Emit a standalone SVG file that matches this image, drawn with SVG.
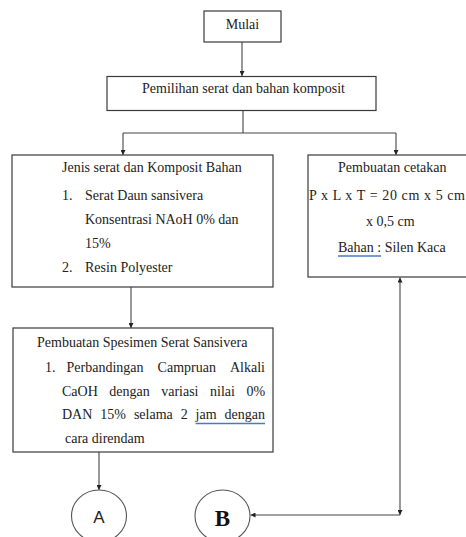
<svg xmlns="http://www.w3.org/2000/svg" width="466" height="537" viewBox="0 0 466 537">
<defs>
<marker id="ah" viewBox="0 0 10 10" refX="10" refY="5" markerWidth="5" markerHeight="5" orient="auto-start-reverse" markerUnits="userSpaceOnUse">
<path d="M0,0 L10,5 L0,10 Z" fill="#222"/>
</marker>
<style>
.box{fill:#fff;stroke:#3a3a3a;stroke-width:1.2}
.t{font-family:"Liberation Serif","Times New Roman",serif;font-size:14px;fill:#222}
.c{fill:none;stroke:#444;stroke-width:1.1}
.circ{fill:#fff;stroke:#555;stroke-width:1.1}
.sq{stroke:#4a78c8;stroke-width:1.3;fill:none}
</style>
</defs>
<rect width="466" height="537" fill="#fff"/>
<g id="connectors">
<path class="c" d="M242,42 V76" marker-end="url(#ah)"/>
<path class="c" d="M243,111 V133 M123,133 H396"/>
<path class="c" d="M123,133 V155" marker-end="url(#ah)"/>
<path class="c" d="M396,133 V155" marker-end="url(#ah)"/>
<path class="c" d="M131,287 V328" marker-end="url(#ah)"/>
<path class="c" d="M99,452 V490" marker-end="url(#ah)"/>
<path class="c" d="M400,515 V277.5" marker-start="url(#ah)" marker-end="url(#ah)"/>
<path class="c" d="M400,515 H250.5" marker-end="url(#ah)"/>
</g>
<g id="mulai">
<rect class="box" x="204" y="11" width="77" height="31"/>
<text class="t" x="242.5" y="29" text-anchor="middle">Mulai</text>
</g>
<g id="pemilihan">
<rect class="box" x="107" y="76.5" width="269" height="34"/>
<text class="t" x="142" y="93">Pemilihan serat dan bahan komposit</text>
</g>
<g id="jenis">
<rect class="box" x="12" y="155" width="261" height="132"/>
<text class="t" x="62" y="172">Jenis serat dan Komposit Bahan</text>
<text class="t" x="62" y="199.5">1.</text>
<text class="t" x="85" y="199.5">Serat Daun sansivera</text>
<text class="t" x="85" y="224">Konsentrasi NAoH 0% dan</text>
<text class="t" x="85" y="248">15%</text>
<text class="t" x="62" y="272">2.</text>
<text class="t" x="85" y="272">Resin Polyester</text>
</g>
<g id="cetakan">
<rect class="box" x="308" y="155" width="162" height="122"/>
<text class="t" x="338" y="172">Pembuatan cetakan</text>
<text class="t" x="309" y="199.5" textLength="156" lengthAdjust="spacing">P x L x T = 20 cm x 5 cm</text>
<text class="t" x="366" y="226">x 0,5 cm</text>
<text class="t" x="338" y="251.5">Bahan : Silen Kaca</text>
<path class="sq" d="M338,256 H381"/>
</g>
<g id="spesimen">
<rect class="box" x="13" y="328" width="260" height="124"/>
<text class="t" x="37" y="347">Pembuatan Spesimen Serat Sansivera</text>
<text class="t" x="45" y="372">1.</text>
<text class="t" y="372"><tspan x="66.5">Perbandingan</tspan><tspan x="157.6">Campruan</tspan><tspan x="230">Alkali</tspan></text>
<text class="t" y="395.5"><tspan x="62">CaOH</tspan><tspan x="109.3">dengan</tspan><tspan x="161.2">variasi</tspan><tspan x="210">nilai</tspan><tspan x="246.4">0%</tspan></text>
<text class="t" y="419"><tspan x="62">DAN</tspan><tspan x="100.2">15%</tspan><tspan x="133.9">selama</tspan><tspan x="180.7">2</tspan><tspan x="195.6">jam</tspan><tspan x="224.6">dengan</tspan></text>
<path class="sq" d="M195.6,423.5 H265"/>
<text class="t" x="65" y="443">cara direndam</text>
</g>
<g id="A">
<ellipse class="circ" cx="99" cy="516" rx="27.5" ry="26"/>
<text x="99" y="522.5" text-anchor="middle" font-family="Liberation Sans, Arial, sans-serif" font-size="17" fill="#222">A</text>
</g>
<g id="B">
<ellipse class="circ" cx="222.5" cy="516" rx="27.5" ry="26"/>
<text x="222.5" y="525.5" text-anchor="middle" font-family="Liberation Serif, Times New Roman, serif" font-size="23" font-weight="bold" fill="#111">B</text>
</g>
</svg>
